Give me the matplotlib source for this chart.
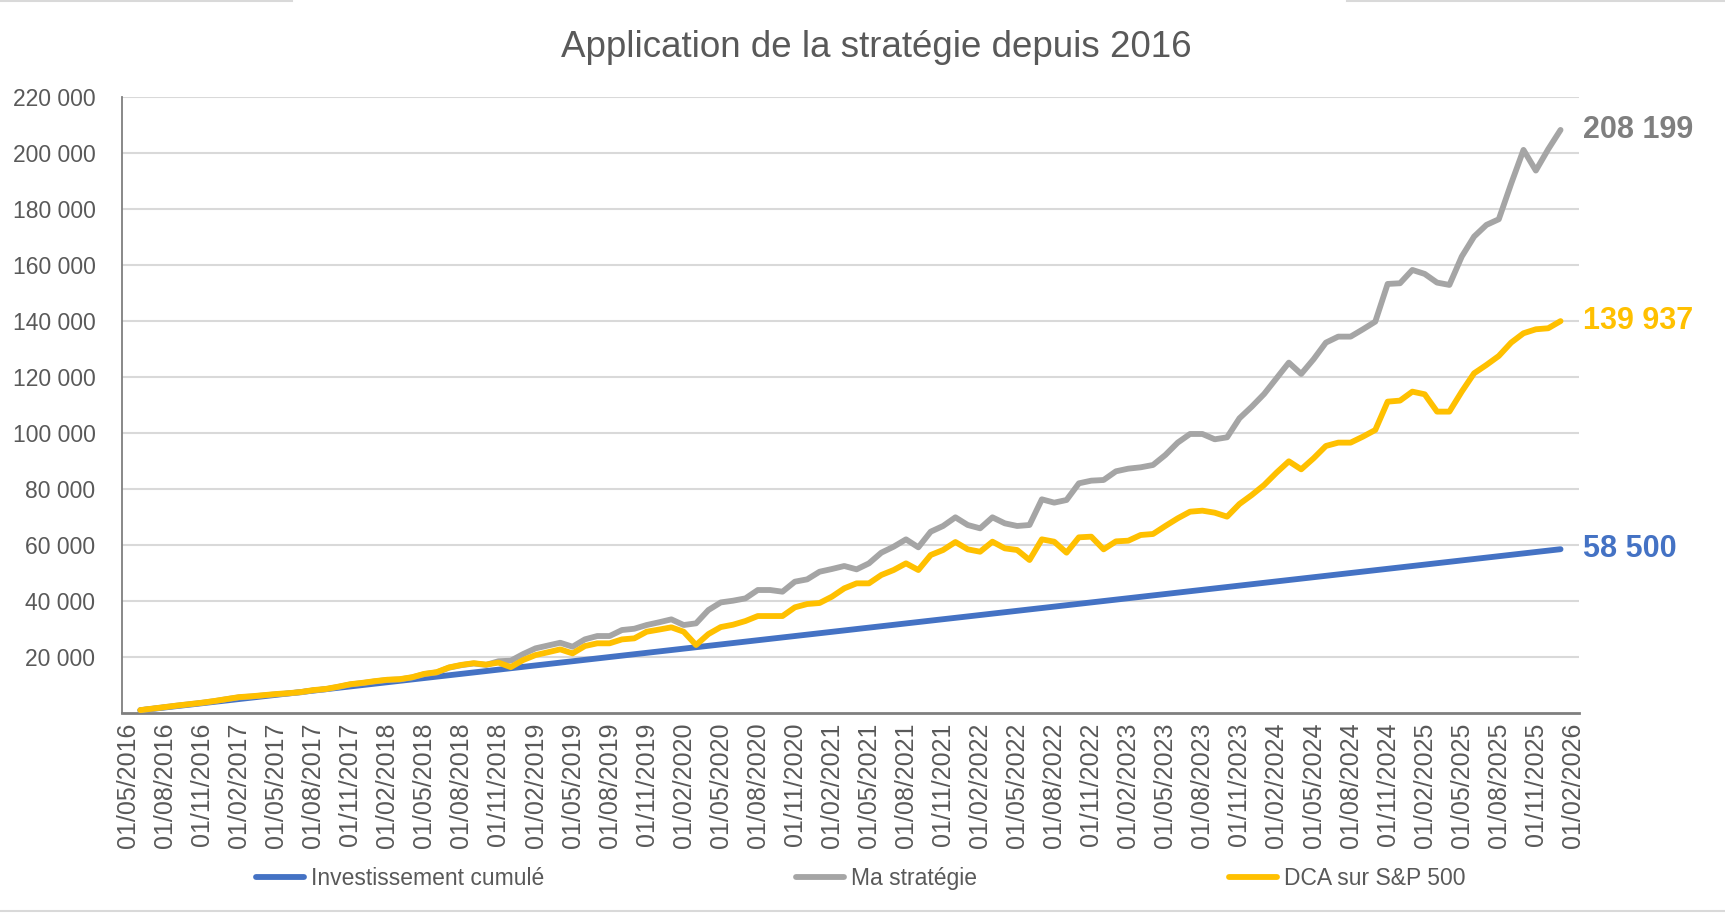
import numpy as np
import matplotlib.pyplot as plt
from matplotlib.lines import Line2D

plt.rcParams['font.family'] = ['Liberation Sans', 'DejaVu Sans']

# monthly values, 06/2016 -> 01/2026
investi = [
    1000, 1500, 2000, 2500, 3000, 3500, 4000, 4500, 5000, 5500,
    6000, 6500, 7000, 7500, 8000, 8500, 9000, 9500, 10000, 10500,
    11000, 11500, 12000, 12500, 13000, 13500, 14000, 14500, 15000, 15500,
    16000, 16500, 17000, 17500, 18000, 18500, 19000, 19500, 20000, 20500,
    21000, 21500, 22000, 22500, 23000, 23500, 24000, 24500, 25000, 25500,
    26000, 26500, 27000, 27500, 28000, 28500, 29000, 29500, 30000, 30500,
    31000, 31500, 32000, 32500, 33000, 33500, 34000, 34500, 35000, 35500,
    36000, 36500, 37000, 37500, 38000, 38500, 39000, 39500, 40000, 40500,
    41000, 41500, 42000, 42500, 43000, 43500, 44000, 44500, 45000, 45500,
    46000, 46500, 47000, 47500, 48000, 48500, 49000, 49500, 50000, 50500,
    51000, 51500, 52000, 52500, 53000, 53500, 54000, 54500, 55000, 55500,
    56000, 56500, 57000, 57500, 58000, 58500,
]
strategie = [
    1000, 1550, 2100, 2650, 3150, 3650, 4250, 4950, 5600, 5900,
    6300, 6700, 7000, 7400, 8100, 8500, 9300, 10200, 10700, 11300,
    11800, 12000, 12700, 13900, 14500, 16200, 17100, 17700, 17200, 18500,
    18700, 21070, 23100, 24100, 25100, 23690, 26310, 27500, 27500, 29640,
    30100, 31430, 32400, 33450, 31430, 32030, 36780, 39500, 40120, 40950,
    43930, 43930, 43330, 46900, 47740, 50460, 51430, 52500, 51310, 53450,
    57260, 59400, 62020, 59170, 64760, 66790, 69880, 67140, 65950, 69880,
    67740, 66790, 67140, 76310, 75120, 76070, 82020, 82970, 83210, 86310,
    87260, 87740, 88570, 92140, 96550, 99640, 99640, 97740, 98450, 105240,
    109400, 113930, 119520, 125120, 121070, 126310, 132260, 134400, 134400, 137020,
    139760, 153210, 153450, 158210, 156790, 153690, 152860, 162980, 170120, 174290,
    176310, 189000, 201070, 193690, 201300, 208199,
]
dca_sp500 = [
    1050, 1600, 2150, 2700, 3200, 3700, 4300, 5000, 5700, 6000,
    6400, 6800, 7100, 7500, 8200, 8600, 9400, 10300, 10800, 11400,
    11900, 12100, 12800, 14000, 14600, 16300, 17200, 17800, 17300, 18000,
    16400, 18930, 20700, 21700, 22740, 21300, 23930, 24900, 24900, 26300,
    26670, 29040, 29800, 30600, 29040, 24290, 28200, 30700, 31550, 32860,
    34640, 34640, 34640, 37740, 38930, 39290, 41550, 44520, 46310, 46310,
    49290, 51070, 53450, 51070, 56430, 58210, 61070, 58450, 57600, 61180,
    58810, 58210, 54640, 62020, 61180, 57260, 62740, 62980, 58450, 61300,
    61540, 63570, 63930, 66790, 69520, 71900, 72260, 71540, 70120, 74640,
    77860, 81430, 85830, 89880, 87020, 90950, 95360, 96550, 96550, 98690,
    101070, 111190, 111550, 114760, 113810, 107620, 107620, 114760, 121310, 124290,
    127500, 132260, 135600, 137020, 137380, 139937,
]

tick_labels = [
    '01/05/2016', '01/08/2016', '01/11/2016',
    '01/02/2017', '01/05/2017', '01/08/2017', '01/11/2017',
    '01/02/2018', '01/05/2018', '01/08/2018', '01/11/2018',
    '01/02/2019', '01/05/2019', '01/08/2019', '01/11/2019',
    '01/02/2020', '01/05/2020', '01/08/2020', '01/11/2020',
    '01/02/2021', '01/05/2021', '01/08/2021', '01/11/2021',
    '01/02/2022', '01/05/2022', '01/08/2022', '01/11/2022',
    '01/02/2023', '01/05/2023', '01/08/2023', '01/11/2023',
    '01/02/2024', '01/05/2024', '01/08/2024', '01/11/2024',
    '01/02/2025', '01/05/2025', '01/08/2025', '01/11/2025',
    '01/02/2026',
]

BLUE = '#4472C4'
GREY = '#A5A5A5'
GOLD = '#FFC000'
TXT = '#595959'

# category axis: one slot per month from 05/2016, points centred in their slot
x = np.arange(1, len(investi) + 1) + 0.5
ticks = np.arange(len(tick_labels)) * 3 + 0.5

fig = plt.figure(figsize=(17.25, 9.13), dpi=100)
ax = fig.add_axes([0.0706, 0.219, 0.8448, 0.6749])

lw = 4.2
ax.plot(x, investi, color=BLUE, lw=lw, solid_joinstyle='round', solid_capstyle='round',
        label='Investissement cumulé', zorder=3)
ax.plot(x, strategie, color=GREY, lw=lw, solid_joinstyle='round', solid_capstyle='round',
        label='Ma stratégie', zorder=4)
ax.plot(x, dca_sp500, color=GOLD, lw=lw, solid_joinstyle='round', solid_capstyle='round',
        label='DCA sur S&P 500', zorder=5)

ax.set_xlim(0, 118)
ax.set_ylim(0, 220000)
ax.set_yticks(np.arange(20000, 220001, 20000))
ax.set_yticklabels([f'{v:,}'.replace(',', ' ') for v in range(20000, 220001, 20000)])
ax.set_xticks(ticks)
ax.set_xticklabels(tick_labels, rotation=90, va='top', ha='center')
ax.tick_params(axis='y', length=0, pad=19, labelsize=16.5, labelcolor=TXT)
ax.tick_params(axis='x', length=0, pad=7, labelsize=18, labelcolor=TXT)
ax.grid(axis='y', color='#D9D9D9', lw=1.5)
ax.set_axisbelow(True)
for s in ['top', 'right']:
    ax.spines[s].set_visible(False)
ax.spines['left'].set_color('#7F7F7F')
ax.spines['left'].set_linewidth(1.3)
ax.spines['bottom'].set_color('#7F7F7F')
ax.spines['bottom'].set_linewidth(2)

# end labels
for vals, col in [(strategie, '#7F7F7F'), (dca_sp500, GOLD), (investi, BLUE)]:
    ax.annotate(f'{vals[-1]:,}'.replace(',', ' '), (x[-1], vals[-1]),
                xytext=(16, 0), textcoords='offset points', va='center', ha='left',
                fontsize=22, fontweight='bold', color=col, annotation_clip=False)

fig.text(0.508, 0.948, 'Application de la stratégie depuis 2016', ha='center', va='center',
         fontsize=26.5, color=TXT)

leg = fig.legend(loc='center', bbox_to_anchor=(0.499, 0.038), ncol=3, frameon=False,
                 fontsize=16.5, handlelength=2.1, handletextpad=0.3, columnspacing=11)
for t in leg.get_texts():
    t.set_color(TXT)

# chart area border remnants
fig.add_artist(Line2D([0, 1], [0.002, 0.002], color='#D9D9D9', lw=1.5))
fig.add_artist(Line2D([0, 0.169], [0.999, 0.999], color='#D9D9D9', lw=1.5))
fig.add_artist(Line2D([0.781, 1], [0.999, 0.999], color='#D9D9D9', lw=1.5))

fig.savefig('out.png', dpi=100)
